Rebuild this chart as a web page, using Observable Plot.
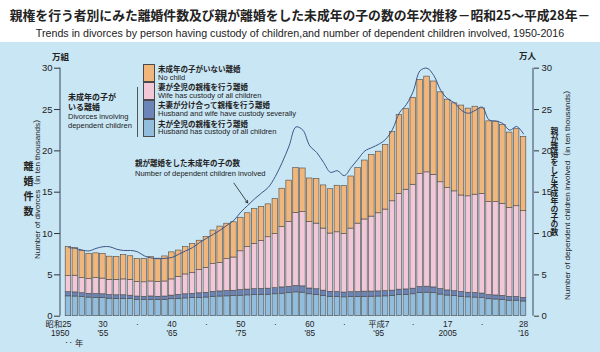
<!DOCTYPE html>
<html><head><meta charset="utf-8">
<script src="https://cdn.jsdelivr.net/npm/d3@7"></script>
<script src="https://cdn.jsdelivr.net/npm/@observablehq/plot@0.6"></script>
<style>
body{margin:0;background:#fff;}
#wrap{position:relative;width:600px;height:352px;overflow:hidden;font-family:"Noto Sans CJK JP",sans-serif;color:#222;}
.title{position:absolute;left:0;top:5px;width:600px;text-align:center;font-weight:bold;font-size:12.8px;line-height:20px;white-space:nowrap;}
.sub{position:absolute;left:0;top:26px;width:600px;text-align:center;font-family:"Liberation Sans",Arial,sans-serif;font-size:10.7px;line-height:14px;white-space:nowrap;}
#chart{position:absolute;left:0;top:42px;}
.ov{position:absolute;white-space:nowrap;color:#222;}
.jp{font-family:"Noto Sans CJK JP",sans-serif;font-weight:bold;}
.en{font-family:"Liberation Sans",Arial,"Noto Sans CJK JP",sans-serif;}
.vert{writing-mode:vertical-rl;text-orientation:upright;}
.rot{transform:translate(-50%,-50%) rotate(-90deg);}
.box{position:absolute;left:143px;width:12px;box-sizing:border-box;border:0.7px solid #4a4a4a;}
</style>
</head><body>
<div id="wrap">
  <div class="title">親権を行う者別にみた離婚件数及び親が離婚をした未成年の子の数の年次推移－昭和25～平成28年－</div>
  <div class="sub">Trends in divorces by person having custody of children,and number of dependent children involved, 1950-2016</div>
  <div id="chart"></div>
  <div id="ovl"></div>
</div>
<script>
// ---- data (万組 / 万人) ----
const years = d3.range(1950, 2017);
const husband = [2.40,2.38,2.30,2.25,2.22,2.20,2.12,2.10,2.10,2.06,1.98,1.95,1.98,1.95,1.97,2.05,2.10,2.15,2.18,2.22,2.26,2.35,2.38,2.40,2.42,2.48,2.52,2.55,2.58,2.60,2.65,2.72,2.78,2.88,2.85,2.65,2.58,2.45,2.35,2.32,2.28,2.30,2.32,2.35,2.36,2.38,2.40,2.45,2.55,2.58,2.65,2.82,2.85,2.78,2.62,2.50,2.42,2.35,2.28,2.25,2.20,2.05,2.02,1.98,1.88,1.88,1.78];
const both = [0.50,0.50,0.48,0.46,0.46,0.45,0.44,0.43,0.43,0.42,0.40,0.40,0.41,0.40,0.41,0.44,0.48,0.50,0.52,0.55,0.57,0.60,0.62,0.64,0.66,0.68,0.70,0.72,0.72,0.73,0.74,0.76,0.76,0.78,0.76,0.70,0.68,0.64,0.60,0.60,0.58,0.60,0.60,0.62,0.62,0.62,0.63,0.64,0.66,0.66,0.68,0.72,0.72,0.70,0.66,0.62,0.60,0.58,0.56,0.56,0.54,0.50,0.49,0.48,0.46,0.45,0.43];
const wife = [1.95,2.02,1.82,1.79,1.92,1.90,1.84,1.87,1.92,1.92,1.77,1.75,1.81,1.80,1.82,1.96,2.17,2.40,2.50,2.83,3.02,3.35,3.45,3.86,4.02,4.69,5.13,5.48,5.80,6.22,6.56,7.32,7.86,8.84,8.99,8.05,7.94,7.51,7.05,7.23,7.09,7.70,8.28,8.73,9.07,9.45,9.87,10.81,11.59,12.06,12.57,13.66,13.83,13.62,12.92,12.38,12.08,11.67,11.66,11.89,12.06,11.25,11.29,11.14,10.76,10.97,10.49];
const noChild = [3.52,3.33,3.30,3.03,3.00,2.98,2.80,2.77,2.95,2.85,2.79,2.83,2.94,2.81,3.03,3.27,3.19,3.30,3.53,3.53,3.74,4.06,4.39,4.29,4.26,4.06,4.10,4.20,4.11,3.98,4.22,4.62,5.00,5.42,5.27,5.26,5.41,5.22,5.36,5.63,5.81,6.30,6.72,7.13,7.46,7.45,7.80,8.36,9.52,9.75,10.52,11.39,11.58,11.29,10.88,10.69,10.65,10.88,10.61,10.64,10.34,9.77,9.74,9.54,9.11,9.32,8.98];
const children = [8.3,8.2,8.0,7.9,8.2,8.4,8.4,8.1,7.95,7.95,7.8,7.3,7.05,6.95,7.0,7.1,7.5,7.9,8.3,8.9,9.4,9.9,10.4,11.0,11.6,12.6,13.4,14.2,14.9,15.6,16.9,18.6,20.6,22.9,22.5,20.6,19.8,18.6,17.4,17.6,17.0,18.0,19.0,20.0,20.4,20.8,21.4,22.6,24.6,25.6,27.2,29.7,30.0,29.1,27.3,26.3,25.8,24.9,24.55,24.9,25.3,23.75,23.6,23.3,22.5,22.95,22.05];

const seriesNames = ["夫が全児の親権を行う離婚","夫妻が分け合って親権を行う離婚","妻が全児の親権を行う離婚","未成年の子がいない離婚"];
const seriesEn = ["Husband has custody of all children","Husband and wife have custody severally","Wife has custody of all children","No child"];
const seriesColors = ["#93bddd","#6d84b8","#f2c7d6","#f0b67c"];

const tickYears = [1950,1955,1960,1965,1970,1975,1980,1985,1990,1995,2000,2005,2010,2016];
const eraLabels = ["昭和25","30","·","40","·","50","·","60","·","平成7","·","17","·","28"];
const westLabels = ["1950","'55","","'65","","'75","","'85","","'95","","2005","","'16"];
const yTicks = [0,5,10,15,20,25,30];
const arrowPts = [{x1:1974, y1:16.1, x2:1976, y2:13.7}];

// ---- tables ----
const series = [husband, both, wife, noChild];
const rows = [];
years.forEach((yr, i) => series.forEach((arr, k) => rows.push({year: yr, series: seriesNames[k], value: arr[i]})));
const lineRows = years.map((yr, i) => ({year: yr, v: children[i]}));
const tickRows = tickYears.map((yr, i) => ({year: yr, era: eraLabels[i], west: westLabels[i]}));

const font = '"Liberation Sans", Arial, "Noto Sans CJK JP", sans-serif';
const mL = 64.5, mR = 73.5;
const fs = 8.3;
const plot = Plot.plot({
  width: 600, height: 310,
  marginLeft: mL, marginRight: mR, marginTop: 25.7, marginBottom: 36.3,
  style: {background: "#c9e6f5", fontFamily: font, fontSize: "10px", color: "#222", overflow: "visible"},
  x: {type: "band", domain: years, paddingInner: 0.2, paddingOuter: 0.1, axis: null},
  y: {domain: [0, 30], axis: null},
  color: {domain: seriesNames, range: seriesColors},
  marks: [
    Plot.barY(rows, {x: "year", y: "value", fill: "series", order: seriesNames, stroke: "#4a4a4a", strokeWidth: 0.6}),
    Plot.lineY(lineRows, {x: "year", y: "v", stroke: "#3f5585", strokeWidth: 1, curve: "catmull-rom"}),
    Plot.axisY({anchor: "left", ticks: yTicks, tickSize: 6, dx: -4.5, tickPadding: 2, fontSize: 9.5, label: null, stroke: "#333"}),
    Plot.axisY({anchor: "right", ticks: yTicks, tickSize: 5, dx: 6.5, tickPadding: 3, fontSize: 9.5, label: null, stroke: "#333"}),
    Plot.text(tickRows.slice(1), {x: "year", text: "era", frameAnchor: "bottom", dy: 11, fontSize: fs}),
    Plot.text(tickRows.slice(1), {x: "year", text: "west", frameAnchor: "bottom", dy: 20.2, fontSize: fs}),
    Plot.text(tickRows.slice(0, 1), {x: "year", text: "era", frameAnchor: "bottom", dy: 11, fontSize: fs, textAnchor: "end", dx: 3}),
    Plot.text(tickRows.slice(0, 1), {x: "year", text: "west", frameAnchor: "bottom", dy: 20.2, fontSize: fs, textAnchor: "end", dx: 1}),
    Plot.text(tickRows.slice(0, 1), {x: "year", text: () => "‥ 年", frameAnchor: "bottom", dy: 29.4, fontSize: fs, textAnchor: "start", dx: -4}),
    Plot.arrow(arrowPts, {x1: "x1", y1: "y1", x2: "x2", y2: "y2", stroke: "#222", strokeWidth: 0.8, headLength: 5})
  ]
});
document.getElementById("chart").appendChild(plot);

// axis lines
const ys = plot.scale("y");
const svg = d3.select(plot);
[mL - 4.5, 600 - mR + 6.5].forEach(x => {
  svg.append("line").attr("x1", x).attr("x2", x).attr("y1", ys.apply(0)).attr("y2", ys.apply(30))
    .attr("stroke", "#3a4560").attr("stroke-width", 1);
});

// overlays: axis titles, legend, annotations
const ov = document.getElementById("ovl");
function add(html, cls, css) {
  const d = document.createElement("div");
  d.className = "ov " + cls;
  d.innerHTML = html;
  Object.assign(d.style, css);
  ov.appendChild(d);
  return d;
}
add("万組", "jp", {left: "52px", top: "51px", fontSize: "8.5px", lineHeight: "11px"});
add("万人", "jp", {left: "519px", top: "49.5px", fontSize: "8.5px", lineHeight: "11px"});
add("離婚件数", "jp vert", {left: "22px", top: "161px", fontSize: "10px", letterSpacing: "5px", lineHeight: "12px"});
add("Number of divorces（in ten thousands）", "en rot", {left: "38px", top: "187px", fontSize: "8px", lineHeight: "10px"});
add("親が離婚をした未成年の子の数", "jp vert", {left: "549px", top: "127px", fontSize: "7.8px", lineHeight: "10px"});
add("Number of dependent children involved（in ten thousands）", "en rot", {left: "568px", top: "193px", fontSize: "8px", lineHeight: "10px"});

// legend (top entry = last stacked series)
for (let k = 3; k >= 0; k--) {
  const idx = 3 - k;
  const top = 64 + idx * 18.2;
  const b = document.createElement("div");
  b.className = "box";
  Object.assign(b.style, {top: top + "px", height: "18.2px", background: seriesColors[k]});
  ov.appendChild(b);
  add(seriesNames[k], "jp", {left: "158px", top: (top + 1) + "px", fontSize: "7.5px", lineHeight: "8.5px"});
  add(seriesEn[k], "en", {left: "158px", top: (top + 9.6) + "px", fontSize: "7.5px", lineHeight: "8.5px"});
}
add("", "", {left: "137px", top: "87px", width: "0", height: "50px", borderLeft: "0.8px solid #555"});
add("未成年の子が<br>いる離婚", "jp", {left: "68px", top: "92px", fontSize: "8px", lineHeight: "9.5px"});
add("Divorces involving<br>dependent children", "en", {left: "68px", top: "112px", fontSize: "7.5px", lineHeight: "9px"});
add("親が離婚をした未成年の子の数", "jp", {left: "135px", top: "158px", fontSize: "7.5px", lineHeight: "10px"});
add("Number of dependent children involved", "en", {left: "135px", top: "168.5px", fontSize: "7.5px", lineHeight: "10px"});
</script>
</body></html>
